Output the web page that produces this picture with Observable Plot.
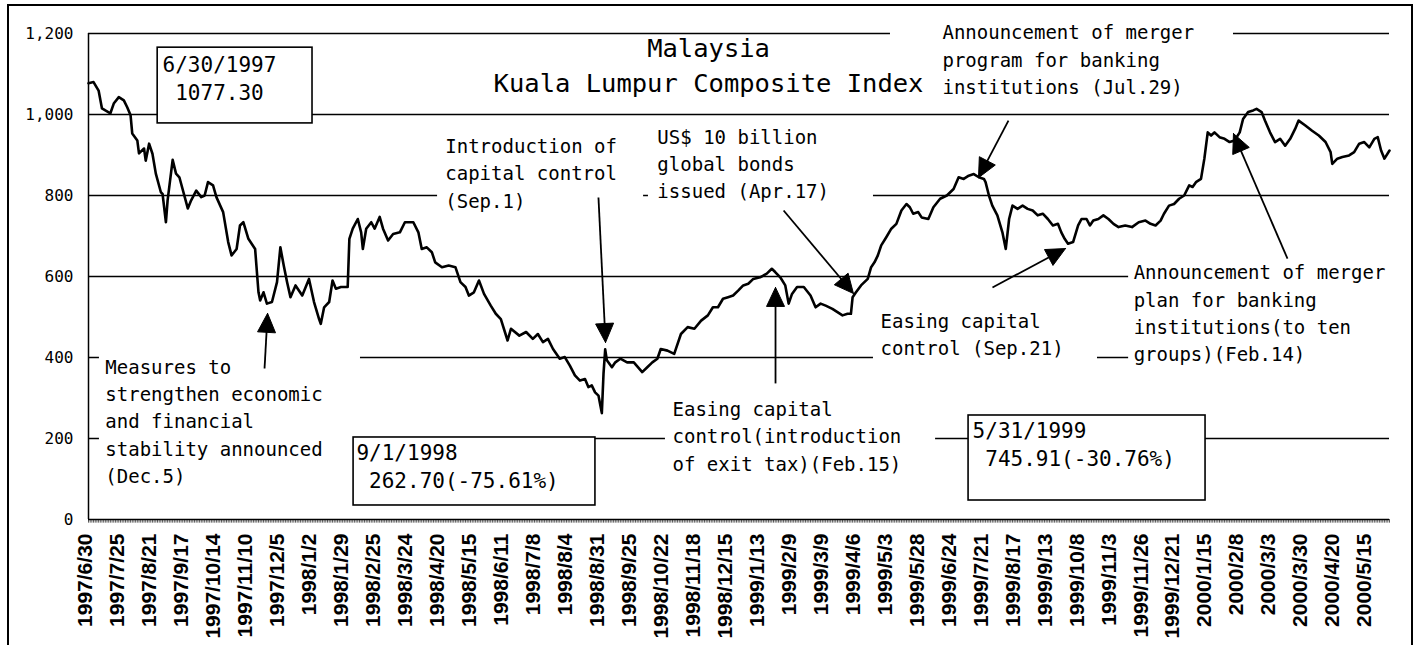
<!DOCTYPE html>
<html>
<head>
<meta charset="utf-8">
<script src="https://cdn.jsdelivr.net/npm/d3@7"></script>
<script src="https://cdn.jsdelivr.net/npm/@observablehq/plot@0.6"></script>
<style>
  body { margin: 0; background: #fff; }
  #wrap { position: relative; width: 1417px; height: 645px; overflow: hidden; background: #fff; }
  #frame { position: absolute; left: 7px; top: 4px; width: 1402px; height: 680px; border: 2px solid #000; pointer-events: none; }
  #chart { position: absolute; left: 0; top: 0; }
</style>
</head>
<body>
<div id="wrap"><div id="chart"></div><div id="frame"></div></div>
<script>
// ---- data: trading-day index (0 = 1997/6/30) and KLCI close ----
const days = [0,3,6,8,10,13,15,18,21,23,25,26,29,30,33,34,36,38,40,43,44,46,47,50,52,54,59,61,64,67,69,71,74,76,80,83,85,88,90,92,95,99,101,102,104,106,109,112,114,116,118,120,123,127,131,134,137,138,140,143,145,147,150,154,155,157,160,162,163,165,168,170,173,175,178,181,185,188,193,196,198,201,204,206,210,214,218,221,224,226,229,232,235,239,242,245,249,251,256,260,264,267,270,273,276,280,283,286,289,292,295,297,299,301,303,305,306,307,308,311,313,316,320,324,329,332,335,338,340,344,348,352,356,360,364,368,371,374,377,380,383,386,389,392,395,399,403,406,408,411,414,416,418,421,425,429,432,435,438,442,445,448,451,453,454,456,459,463,465,467,469,471,474,477,480,483,486,488,490,493,495,499,502,506,510,514,517,520,523,526,529,532,533,535,537,540,543,545,547,549,552,555,558,561,564,567,570,573,576,578,580,582,585,588,590,593,595,597,600,603,606,609,612,616,620,624,628,631,634,637,639,642,645,648,651,654,656,658,661,663,665,667,669,672,675,678,681,684,686,689,692,694,697,699,702,705,708,711,714,717,719,723,727,731,735,738,739,742,745,749,752,755,758,761,764,766,768,770,773];
const klci = [1077.3,1080,1059,1015,1010,1003,1027,1043,1035,1018,998,953,936,904,916,886,928,903,854,808,804,734,788,888,854,845,768,788,812,796,800,833,825,796,759,685,652,668,726,734,693,668,561,541,561,533,537,586,672,627,586,549,578,553,594,537,495,483,524,537,590,570,574,574,693,718,742,709,668,718,734,718,747,718,689,705,709,734,734,709,668,672,660,635,623,627,623,586,574,553,561,590,557,528,508,495,442,471,454,463,446,458,438,446,421,397,401,380,356,343,347,327,331,314,306,262.7,360,420,393,376,388,397,388,388,364,376,388,397,421,417,409,458,475,471,491,504,524,524,545,549,553,565,578,582,594,598,607,619,611,598,578,533,557,574,574,553,524,533,528,520,512,504,508,508,549,561,578,594,623,635,652,677,697,718,730,763,779,771,755,759,745.91,742,771,792,800,816,845,841,849,853,845,841,833,800,775,751,709,668,742,775,767,775,767,763,751,755,742,726,730,709,693,681,685,726,742,742,726,738,742,751,742,730,722,726,722,734,738,730,726,738,755,775,779,792,800,825,821,833,841,891,956,948,956,944,940,932,936,956,989,1006,1010,1014,1006,985,956,932,940,923,940,965,985,973,960,948,932,907,878,891,895,899,907,928,932,919,940,944,911,891,911];
const tickLabels = ["1997/6/30","1997/7/25","1997/8/21","1997/9/17","1997/10/14","1997/11/10","1997/12/5","1998/1/2","1998/1/29","1998/2/25","1998/3/24","1998/4/20","1998/5/15","1998/6/11","1998/7/8","1998/8/4","1998/8/31","1998/9/25","1998/10/22","1998/11/18","1998/12/15","1999/1/13","1999/2/9","1999/3/9","1999/4/6","1999/5/3","1999/5/28","1999/6/24","1999/7/21","1999/8/17","1999/9/13","1999/10/8","1999/11/3","1999/11/26","1999/12/21","2000/1/15","2000/2/8","2000/3/3","2000/3/30","2000/4/20","2000/5/15"];
const labelStep = 19;            // trading days between category labels
const yTicks = [0, 200, 400, 600, 800, 1000, 1200];

// ---- layout ----
const W = 1417, H = 645, ML = 88, MR = 28, MT = 33, MB = 126;
const lastDay = days[days.length - 1];
const series = days.map((d, i) => ({d, v: klci[i]}));
const tickIdx = tickLabels.map((_, i) => i * labelStep);
const labelMap = new Map(tickIdx.map((t, i) => [t, tickLabels[i]]));

// annotations (placed in data coordinates: trading-day index, index value)
const mono = "DejaVu Sans Mono";
const notes = [
  {x: 10, y: 408, t: "Measures to\nstrengthen economic\nand financial\nstability announced\n(Dec.5)"},
  {x: 212, y: 953, t: "Introduction of\ncapital control\n(Sep.1)"},
  {x: 338, y: 976, t: "US$ 10 billion\nglobal bonds\nissued (Apr.17)"},
  {x: 347, y: 304, t: "Easing capital\ncontrol(introduction\nof exit tax)(Feb.15)"},
  {x: 470.6, y: 521, t: "Easing capital\ncontrol (Sep.21)"},
  {x: 507.4, y: 1234, t: "Announcement of merger\nprogram for banking\ninstitutions (Jul.29)"},
  {x: 621, y: 641, t: "Announcement of merger\nplan for banking\ninstitutions(to ten\ngroups)(Feb.14)"}
];
const masks = [
  {x1: 6.5, x2: 161.6, y1: 47, y2: 417},
  {x1: 207.4, x2: 329.8, y1: 763, y2: 960},
  {x1: 332.7, x2: 466.4, y1: 775, y2: 985},
  {x1: 466.4, x2: 599.5, y1: 380, y2: 541},
  {x1: 618, x2: 775, y1: 380, y2: 644},
  {x1: 342.8, x2: 503.3, y1: 109, y2: 306},
  {x1: 476.5, x2: 680.3, y1: 1035, y2: 1260}
];
const valueBoxes = [
  {x1: 41.1, x2: 133.1, y1: 978, y2: 1165, tx: 44, ty: 1153, t: "6/30/1997\n\u00a01077.30"},
  {x1: 157.5, x2: 301.2, y1: 34.6, y2: 202.5, tx: 159.2, ty: 194.8, t: "9/1/1998\n\u00a0262.70(-75.61%)"},
  {x1: 522.9, x2: 663.7, y1: 46.9, y2: 256.8, tx: 525.3, ty: 249.1, t: "5/31/1999\n\u00a0745.91(-30.76%)"}
];
const arrows = [
  {x1: 104.6, y1: 373, x2: 106.4, y2: 509},
  {x1: 303, y1: 795, x2: 307.2, y2: 437},
  {x1: 408.2, y1: 336, x2: 408.2, y2: 573},
  {x1: 413, y1: 763, x2: 454.5, y2: 558},
  {x1: 537.1, y1: 573, x2: 580.5, y2: 669},
  {x1: 546.6, y1: 985, x2: 528.8, y2: 844},
  {x1: 712.4, y1: 644, x2: 680.3, y2: 953}
];

// build filled arrow heads through the scales
const sx = Plot.scale({x: {domain: [0, lastDay], range: [ML, W - MR]}});
const sy = Plot.scale({y: {domain: [0, 1200], range: [H - MB, MT]}});
const HL = 19, HW = 18;
const shafts = [], heads = [];
arrows.forEach((a, k) => {
  const X1 = sx.apply(a.x1), Y1 = sy.apply(a.y1), X2 = sx.apply(a.x2), Y2 = sy.apply(a.y2);
  const len = Math.hypot(X2 - X1, Y2 - Y1), ux = (X2 - X1) / len, uy = (Y2 - Y1) / len;
  const bx = X2 - ux * HL, by = Y2 - uy * HL, px = -uy, py = ux;
  shafts.push({x1: a.x1, y1: a.y1, x2: sx.invert(bx + ux * 2), y2: sy.invert(by + uy * 2)});
  [[X2, Y2], [bx + px * HW / 2, by + py * HW / 2], [bx - px * HW / 2, by - py * HW / 2], [X2, Y2]]
    .forEach(([X, Y]) => heads.push({k, x: sx.invert(X), y: sy.invert(Y)}));
});

const chart = Plot.plot({
  width: W, height: H,
  marginLeft: ML, marginRight: MR, marginTop: MT, marginBottom: MB,
  x: {domain: [0, lastDay]},
  y: {domain: [0, 1200]},
  style: {fontFamily: mono, background: "transparent", color: "black", overflow: "visible"},
  marks: [
    Plot.ruleY(yTicks, {stroke: "black", strokeWidth: 1.3}),
    Plot.ruleX(d3.range(0, lastDay + 1), {y1: 0, y2: -9, stroke: "black", strokeWidth: 0.8, strokeOpacity: 0.8}),
    Plot.ruleX([0], {y1: 0, y2: 1200, stroke: "black", strokeWidth: 1.5}),
    Plot.axisY({ticks: yTicks, tickSize: 0, tickPadding: 15, tickFormat: d3.format(","), fontSize: 16, fontFamily: mono, label: null}),
    Plot.axisX({ticks: tickIdx, tickSize: 0, tickPadding: 14, tickRotate: -90, tickFormat: d => labelMap.get(d), dx: -3,
      fontSize: 21, fontWeight: "bold", fontFamily: "Liberation Sans, Arial, sans-serif", label: null}),
    Plot.rect(masks, {x1: "x1", x2: "x2", y1: "y1", y2: "y2", fill: "white"}),
    Plot.rect(valueBoxes, {x1: "x1", x2: "x2", y1: "y1", y2: "y2", fill: "white", stroke: "black", strokeWidth: 1.6}),
    Plot.line(series, {x: "d", y: "v", stroke: "black", strokeWidth: 2.6, strokeLinejoin: "round"}),
    Plot.link(shafts, {x1: "x1", y1: "y1", x2: "x2", y2: "y2", stroke: "black", strokeWidth: 1.8}),
    Plot.line(heads, {x: "x", y: "y", z: "k", fill: "black", stroke: "black", strokeWidth: 1}),
    Plot.text(notes, {x: "x", y: "y", text: "t", textAnchor: "start", lineAnchor: "top", lineHeight: 1.44, fontSize: 19, fontFamily: mono, fill: "black"}),
    Plot.text(valueBoxes, {x: "tx", y: "ty", text: "t", textAnchor: "start", lineAnchor: "top", lineHeight: 1.333, fontSize: 21, fontFamily: mono, fill: "black"}),
    Plot.text(["Malaysia\nKuala Lumpur Composite Index"], {x: 368.4, y: 1202, text: d => d, textAnchor: "middle", lineAnchor: "top", lineHeight: 1.37, fontSize: 25.5, fontFamily: mono, fill: "black"})
  ]
});
document.getElementById("chart").appendChild(chart);
</script>
</body>
</html>
